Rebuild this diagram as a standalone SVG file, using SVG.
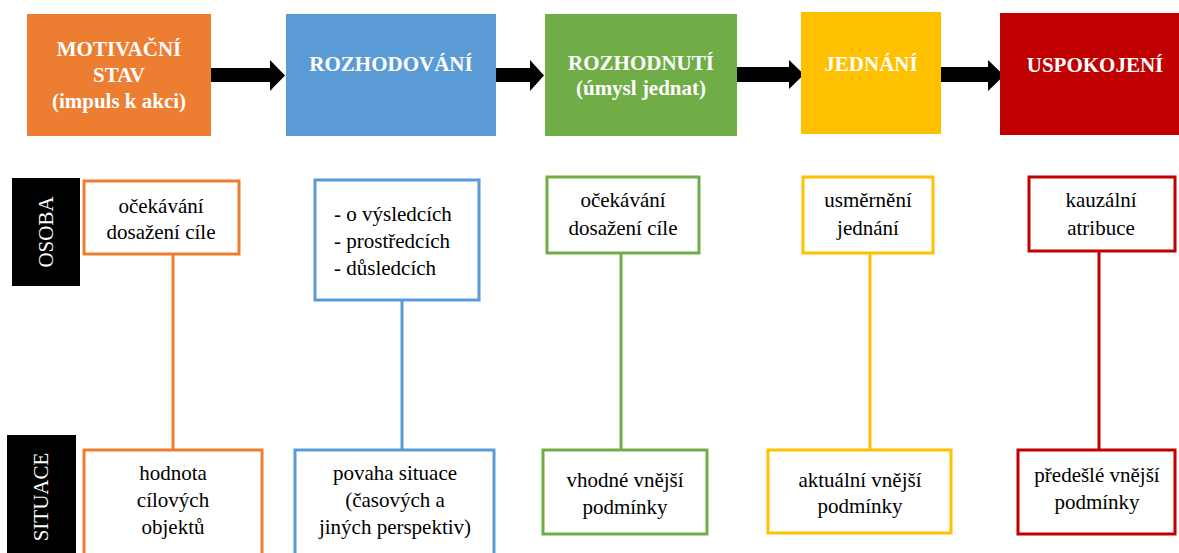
<svg xmlns="http://www.w3.org/2000/svg" width="1179" height="553" viewBox="0 0 1179 553">
<style>
svg text, svg .top, svg .t, svg .tl, svg .lab{font-family:'Liberation Serif','Times New Roman',serif !important}
.top{font-weight:bold;font-size:21px;fill:#fff;text-anchor:middle}
.t{font-size:21px;fill:#000;text-anchor:middle}
.tl{font-size:21px;fill:#000}
.lab{font-size:21px;fill:#fff;text-anchor:middle}
.box{fill:#fff;stroke-width:3}
.o{stroke:#ED7D31}.b{stroke:#5B9BD5}.g{stroke:#70AD47}.y{stroke:#FFC000}.r{stroke:#C00000}
.ln{stroke-width:3;fill:none}
</style>
<rect width="1179" height="553" fill="#fff"/>
<g id="connectors">
<polygon points="210,68 270,68 270,60 285,75.5 270,91 270,82 210,82" fill="#000"/>
<polygon points="494,68 530,68 530,60 544,75.5 530,91 530,82 494,82" fill="#000"/>
<polygon points="736,67 789,67 789,60 804,74.5 789,89 789,82 736,82" fill="#000"/>
<polygon points="938,67 988,67 988,60 1004,75.5 988,91 988,82 938,82" fill="#000"/>
<line class="ln o" x1="173" y1="254" x2="173" y2="450"/>
<line class="ln b" x1="402" y1="300" x2="402" y2="449"/>
<line class="ln g" x1="621" y1="253" x2="621" y2="449"/>
<line class="ln y" x1="870" y1="253" x2="870" y2="449"/>
<line class="ln r" x1="1099" y1="251" x2="1099" y2="449"/>
</g>
<g id="motivacni-stav">
<rect x="27" y="14" width="184" height="122" fill="#ED7D31"/>
<text class="top" font-family="Liberation Serif" x="119" y="56">MOTIVAČNÍ</text>
<text class="top" font-family="Liberation Serif" x="119" y="82">STAV</text>
<text class="top" font-family="Liberation Serif" x="119" y="108">(impuls k akci)</text>
</g>
<g id="rozhodovani">
<rect x="286" y="14" width="210" height="122" fill="#5B9BD5"/>
<text class="top" font-family="Liberation Serif" x="391" y="71">ROZHODOVÁNÍ</text>
</g>
<g id="rozhodnuti">
<rect x="545" y="14" width="192" height="122" fill="#70AD47"/>
<text class="top" font-family="Liberation Serif" x="641" y="70">ROZHODNUTÍ</text>
<text class="top" font-family="Liberation Serif" x="641" y="95">(úmysl jednat)</text>
</g>
<g id="jednani">
<rect x="801" y="12" width="140" height="122" fill="#FFC000"/>
<text class="top" font-family="Liberation Serif" x="871" y="71">JEDNÁNÍ</text>
</g>
<g id="uspokojeni">
<rect x="1000" y="13" width="179" height="122" fill="#C00000"/>
<text class="top" font-family="Liberation Serif" x="1095" y="72">USPOKOJENÍ</text>
</g>
<g id="osoba-label">
<rect x="12" y="178" width="68" height="108" fill="#000"/>
<text class="lab" font-family="Liberation Serif" transform="translate(53,232) rotate(-90)">OSOBA</text>
</g>
<g id="situace-label">
<rect x="7" y="435" width="69" height="125" fill="#000"/>
<text class="lab" font-family="Liberation Serif" transform="translate(48,497) rotate(-90)">SITUACE</text>
</g>
<g id="osoba-1">
<rect class="box o" x="84" y="181" width="155" height="73"/>
<text class="t" font-family="Liberation Serif" x="161" y="213">očekávání</text>
<text class="t" font-family="Liberation Serif" x="161" y="239">dosažení cíle</text>
</g>
<g id="osoba-2">
<rect class="box b" x="315" y="180" width="164" height="120"/>
<text class="tl" font-family="Liberation Serif" x="334" y="221">- o výsledcích</text>
<text class="tl" font-family="Liberation Serif" x="334" y="248">- prostředcích</text>
<text class="tl" font-family="Liberation Serif" x="334" y="275">- důsledcích</text>
</g>
<g id="osoba-3">
<rect class="box g" x="547" y="177" width="152" height="76"/>
<text class="t" font-family="Liberation Serif" x="623" y="207">očekávání</text>
<text class="t" font-family="Liberation Serif" x="623" y="235">dosažení cíle</text>
</g>
<g id="osoba-4">
<rect class="box y" x="803" y="177" width="130" height="76"/>
<text class="t" font-family="Liberation Serif" x="868" y="207">usměrnění</text>
<text class="t" font-family="Liberation Serif" x="868" y="235">jednání</text>
</g>
<g id="osoba-5">
<rect class="box r" x="1029" y="177" width="146" height="74"/>
<text class="t" font-family="Liberation Serif" x="1101" y="207">kauzální</text>
<text class="t" font-family="Liberation Serif" x="1101" y="235">atribuce</text>
</g>
<g id="situace-1">
<rect class="box o" x="84" y="450" width="178" height="110"/>
<text class="t" font-family="Liberation Serif" x="173" y="480">hodnota</text>
<text class="t" font-family="Liberation Serif" x="173" y="507">cílových</text>
<text class="t" font-family="Liberation Serif" x="173" y="534">objektů</text>
</g>
<g id="situace-2">
<rect class="box b" x="295" y="450" width="199" height="110"/>
<text class="t" font-family="Liberation Serif" x="395" y="480">povaha situace</text>
<text class="t" font-family="Liberation Serif" x="395" y="507">(časových a</text>
<text class="t" font-family="Liberation Serif" x="395" y="534">jiných perspektiv)</text>
</g>
<g id="situace-3">
<rect class="box g" x="543" y="450" width="164" height="84"/>
<text class="t" font-family="Liberation Serif" x="625" y="487">vhodné vnější</text>
<text class="t" font-family="Liberation Serif" x="625" y="514">podmínky</text>
</g>
<g id="situace-4">
<rect class="box y" x="768" y="450" width="183" height="83"/>
<text class="t" font-family="Liberation Serif" x="860" y="487">aktuální vnější</text>
<text class="t" font-family="Liberation Serif" x="860" y="513">podmínky</text>
</g>
<g id="situace-5">
<rect class="box r" x="1018" y="450" width="157" height="84"/>
<text class="t" font-family="Liberation Serif" x="1097" y="482">předešlé vnější</text>
<text class="t" font-family="Liberation Serif" x="1097" y="509">podmínky</text>
</g>
</svg>
